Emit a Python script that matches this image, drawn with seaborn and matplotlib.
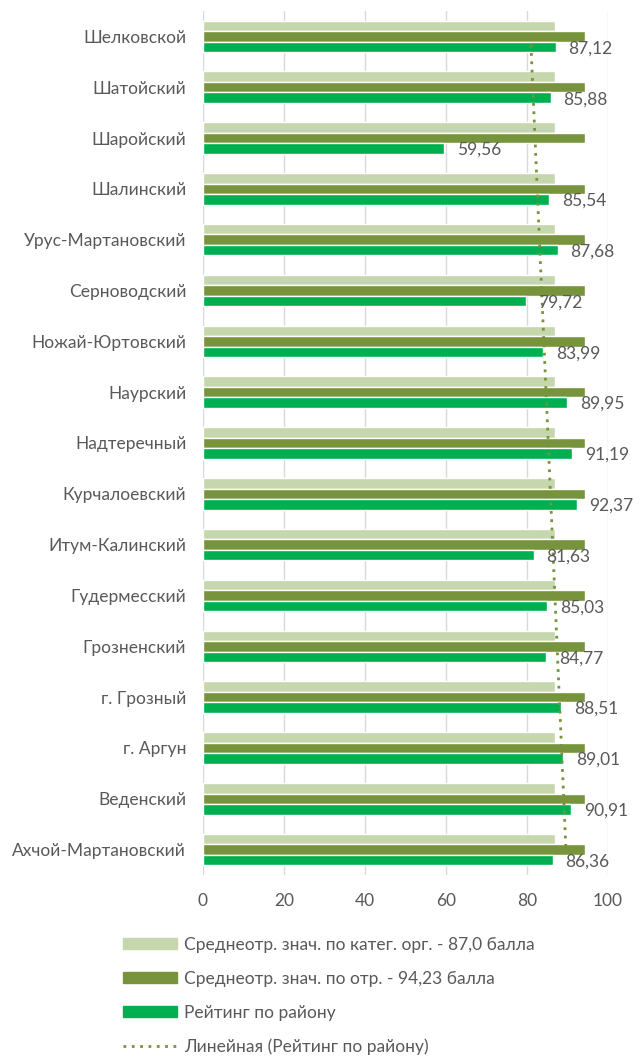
import numpy as np
import pandas as pd
import seaborn as sns
import matplotlib.pyplot as plt

# districts, top to bottom as in the picture
districts = ["Шелковской", "Шатойский", "Шаройский", "Шалинский", "Урус-Мартановский",
             "Серноводский", "Ножай-Юртовский", "Наурский", "Надтеречный", "Курчалоевский",
             "Итум-Калинский", "Гудермесский", "Грозненский", "г. Грозный", "г. Аргун",
             "Веденский", "Ахчой-Мартановский"]
rating = [87.12, 85.88, 59.56, 85.54, 87.68, 79.72, 83.99, 89.95, 91.19, 92.37,
          81.63, 85.03, 84.77, 88.51, 89.01, 90.91, 86.36]
cat_avg = [87.0] * len(districts)
branch_avg = [94.23] * len(districts)

lab_cat = "Среднеотр. знач. по катег. орг. - 87,0 балла"
lab_branch = "Среднеотр. знач. по отр. - 94,23 балла"
lab_rating = "Рейтинг по району"
lab_trend = "Линейная (Рейтинг по району)"

colors = ["#C6D7AE", "#77933C", "#00B050"]
trend_color = "#77933C"
grey = "#595959"

df = pd.DataFrame({
    "district": districts * 3,
    "value": cat_avg + branch_avg + rating,
    "series": [lab_cat] * 17 + [lab_branch] * 17 + [lab_rating] * 17,
})

sns.set_style("white")
plt.rcParams["font.family"] = ["Lato", "DejaVu Sans"]

fig = plt.figure(figsize=(6.42, 10.59), dpi=100)
ax = fig.add_axes([203 / 642, 1 - 875 / 1059, 405 / 642, 864 / 1059])

sns.barplot(data=df, x="value", y="district", hue="series", order=districts,
            hue_order=[lab_cat, lab_branch, lab_rating], palette=colors,
            width=0.62, orient="h", ax=ax, legend=False, saturation=1)

# data labels on the rating bars
for i, v in enumerate(rating):
    ax.annotate(f"{v:.2f}".replace(".", ","), xy=(v, i + 0.207), xytext=(9, -1),
                textcoords="offset points", ha="left", va="center",
                fontsize=12.5, color=grey)

# excel style linear trendline (category order bottom -> top)
xs = np.arange(1, len(rating) + 1)
yr = np.array(rating[::-1])
k, b = np.polyfit(xs, yr, 1)
trend = (k * xs + b)[::-1]
pos = np.arange(len(rating))
ax.plot(trend, pos, linestyle=(0, (1, 2)), color=trend_color, lw=2)

ax.set_xlim(0, 100)
ax.set_ylim(16.5, -0.5)
ax.set_xticks(range(0, 101, 20))
ax.xaxis.grid(True, color="#D9D9D9", lw=1)
ax.set_axisbelow(True)
for s in ax.spines.values():
    s.set_visible(False)
ax.tick_params(axis="both", length=0, colors=grey, labelsize=12.5)
ax.tick_params(axis="x", pad=13)
ax.tick_params(axis="y", pad=12)
ax.set_xlabel("")
ax.set_ylabel("")

handles = [plt.Rectangle((0, 0), 1, 1, color=c) for c in colors]
handles.append(plt.Line2D([], [], linestyle=(0, (1, 2)), color=trend_color, lw=2))
fig.legend(handles, [lab_cat, lab_branch, lab_rating, lab_trend],
           loc="upper left", bbox_to_anchor=(107 / 642, 1 - 921 / 1059),
           frameon=False, fontsize=12.5, labelcolor=grey, handlelength=3.16,
           handleheight=0.63, handletextpad=0.4, labelspacing=1.04)

fig.savefig("out.png", dpi=100)
